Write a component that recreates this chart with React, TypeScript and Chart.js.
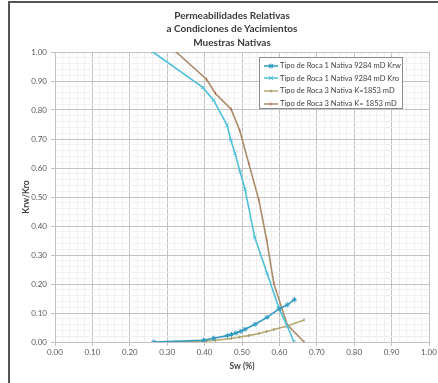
import React, { useEffect, useRef } from "react";
import { Chart, registerables } from "chart.js";

Chart.register(...registerables);

// Tipo de Roca 1 Nativa 9284 mD
const swRoca1Krw = [0.264, 0.397, 0.424, 0.461, 0.472, 0.484, 0.497, 0.508, 0.535, 0.567, 0.599, 0.621, 0.640];
const krwRoca1 = [0.0, 0.006, 0.013, 0.022, 0.026, 0.031, 0.037, 0.044, 0.061, 0.085, 0.114, 0.128, 0.146];
const swRoca1Kro = [0.262, 0.395, 0.424, 0.460, 0.470, 0.481, 0.495, 0.508, 0.534, 0.567, 0.599, 0.621, 0.639];
const kroRoca1 = [1.0, 0.878, 0.834, 0.748, 0.697, 0.651, 0.587, 0.527, 0.361, 0.237, 0.116, 0.055, 0.0];

// Tipo de Roca 3 Nativa K=1853 mD
const swRoca3 = [0.324, 0.405, 0.429, 0.471, 0.494, 0.518, 0.545, 0.566, 0.585, 0.621, 0.666];
const krwRoca3 = [0.0, 0.004, 0.006, 0.012, 0.017, 0.022, 0.029, 0.036, 0.043, 0.055, 0.076];
const kroRoca3 = [1.0, 0.906, 0.857, 0.803, 0.729, 0.616, 0.49, 0.352, 0.202, 0.059, 0.0];

const titleLines = ["Permeabilidades Relativas", "a Condiciones de Yacimientos", "Muestras Nativas"];
const seriesNames = [
  "Tipo de Roca 1 Nativa 9284 mD Krw",
  "Tipo de Roca 1 Nativa 9284 mD Kro",
  "Tipo de Roca 3 Nativa K=1853 mD",
  "Tipo de Roca 3 Nativa K= 1853 mD",
];
const seriesColors = ["#2F9AC0", "#4FC0DB", "#B8A96F", "#A88C66"];
const markerColors = ["#2F9AC0", "#4FC0DB", "#9C8F67", "#C0604D"];

const FONT = "Lato, 'Open Sans', sans-serif";

const pts = (xs: number[], ys: number[]) => xs.map((x, i) => ({ x, y: ys[i] }));
const isMajor = (v: number) => Math.abs(v * 10 - Math.round(v * 10)) < 1e-6;

function axis(title: string, horizontal: boolean) {
  return {
    type: "linear" as const,
    min: 0,
    max: 1,
    afterFit: (scale: any) => {
      if (horizontal) scale.height = 41;
      else scale.width = 55;
      scale.paddingLeft = 0;
      scale.paddingRight = 0;
      scale.paddingTop = 0;
      scale.paddingBottom = 0;
    },
    ticks: {
      stepSize: 0.02,
      autoSkip: false,
      maxRotation: 0,
      minRotation: 0,
      color: "#595959",
      padding: horizontal ? 2 : 4,
      font: { family: FONT, size: 8 },
      callback: (v: any) => (isMajor(Number(v)) ? Number(v).toFixed(2) : ""),
    },
    grid: {
      color: (ctx: any) => (!ctx.tick || isMajor(ctx.tick.value) ? "#C3C3C3" : "#F0F0F0"),
      tickColor: (ctx: any) => (!ctx.tick || isMajor(ctx.tick.value) ? "#C3C3C3" : "rgba(0,0,0,0)"),
      tickLength: 4,
      lineWidth: 1,
    },
    border: { color: "#C3C3C3" },
    title: {
      display: true,
      text: title,
      color: "#404040",
      font: { family: FONT, size: 8.5, weight: "bold" as const },
      padding: horizontal ? { top: 0, bottom: 12 } : { top: 21, bottom: 0 },
    },
  };
}

function LegendMark({ idx }: { idx: number }) {
  const c = seriesColors[idx];
  const m = markerColors[idx];
  const cx = 8;
  const cy = 6;
  let mark: React.ReactNode = null;
  if (idx === 0) {
    mark = (
      <g stroke={m} strokeWidth={1}>
        <line x1={cx - 2.5} y1={cy} x2={cx + 2.5} y2={cy} />
        <line x1={cx} y1={cy - 2.5} x2={cx} y2={cy + 2.5} />
        <line x1={cx - 2} y1={cy - 2} x2={cx + 2} y2={cy + 2} />
        <line x1={cx - 2} y1={cy + 2} x2={cx + 2} y2={cy - 2} />
      </g>
    );
  } else if (idx === 1) {
    mark = (
      <g stroke={m} strokeWidth={1}>
        <line x1={cx - 2} y1={cy - 2} x2={cx + 2} y2={cy + 2} />
        <line x1={cx - 2} y1={cy + 2} x2={cx + 2} y2={cy - 2} />
      </g>
    );
  } else {
    mark = (
      <g stroke={m} strokeWidth={1}>
        <line x1={cx} y1={cy - 1.5} x2={cx} y2={cy + 1.5} />
      </g>
    );
  }
  return (
    <svg width={16} height={12} style={{ display: "block", flex: "none" }}>
      <line x1={1} y1={cy} x2={15} y2={cy} stroke={c} strokeWidth={1.5} />
      {mark}
    </svg>
  );
}

export default function App() {
  const canvasRef = useRef<HTMLCanvasElement | null>(null);

  useEffect(() => {
    if (!canvasRef.current) return;
    const chart = new Chart(canvasRef.current, {
      type: "scatter",
      data: {
        datasets: [
          {
            label: seriesNames[0],
            data: pts(swRoca1Krw, krwRoca1),
            showLine: true,
            borderColor: seriesColors[0],
            borderWidth: 1.6,
            pointStyle: "star",
            pointRadius: 2.5,
            pointBorderColor: markerColors[0],
            pointBackgroundColor: markerColors[0],
            pointBorderWidth: 1,
            tension: 0,
          },
          {
            label: seriesNames[1],
            data: pts(swRoca1Kro, kroRoca1),
            showLine: true,
            borderColor: seriesColors[1],
            borderWidth: 1.6,
            pointStyle: "crossRot",
            pointRadius: 2.5,
            pointBorderColor: markerColors[1],
            pointBackgroundColor: markerColors[1],
            pointBorderWidth: 1,
            tension: 0,
          },
          {
            label: seriesNames[2],
            data: pts(swRoca3, krwRoca3),
            showLine: true,
            borderColor: seriesColors[2],
            borderWidth: 1.6,
            pointStyle: "line",
            rotation: 90,
            pointRadius: 1.5,
            pointBorderColor: markerColors[2],
            pointBorderWidth: 1,
            tension: 0,
          },
          {
            label: seriesNames[3],
            data: pts(swRoca3, kroRoca3),
            showLine: true,
            borderColor: seriesColors[3],
            borderWidth: 1.6,
            pointStyle: "line",
            rotation: 90,
            pointRadius: 1.5,
            pointBorderColor: markerColors[3],
            pointBorderWidth: 1,
            tension: 0,
          },
        ],
      },
      options: {
        responsive: false,
        animation: false,
        devicePixelRatio: 1,
        layout: { padding: { top: 52, right: 9, bottom: 0, left: 0 } },
        plugins: {
          legend: { display: false },
          tooltip: { enabled: false },
          title: { display: false },
        },
        scales: {
          x: axis("Sw (%)", true),
          y: axis("Krw/Kro", false),
        } as any,
      },
    });
    return () => chart.destroy();
  }, []);

  return (
    <div
      style={{
        position: "fixed",
        left: 0,
        top: 0,
        width: 438,
        height: 383,
        background: "#ffffff",
        overflow: "hidden",
        fontFamily: FONT,
      }}
    >
      <canvas ref={canvasRef} width={438} height={383} style={{ position: "absolute", left: 0, top: 0 }} />
      <div
        style={{
          position: "absolute",
          left: 8,
          top: 1,
          width: 440,
          height: 390,
          borderLeft: "2px solid #555555",
          borderTop: "2px solid #555555",
          pointerEvents: "none",
        }}
      />
      <div
        style={{
          position: "absolute",
          left: 112,
          top: 9,
          width: 240,
          textAlign: "center",
          fontSize: 10,
          lineHeight: "13.3px",
          fontWeight: "bold",
          color: "#3A3A3A",
        }}
      >
        {titleLines.map((t) => (
          <div key={t}>{t}</div>
        ))}
      </div>
      <div
        style={{
          position: "absolute",
          left: 259,
          top: 57,
          width: 144,
          height: 52,
          boxSizing: "border-box",
          border: "1px solid #8C8C8C",
          background: "#ffffff",
          paddingTop: 1.5,
          paddingLeft: 3,
        }}
      >
        {seriesNames.map((name, i) => (
          <div key={name} style={{ display: "flex", alignItems: "center", height: 12.6 }}>
            <LegendMark idx={i} />
            <span style={{ fontSize: 7.5, color: "#404040", marginLeft: 1, whiteSpace: "nowrap" }}>{name}</span>
          </div>
        ))}
      </div>
    </div>
  );
}
